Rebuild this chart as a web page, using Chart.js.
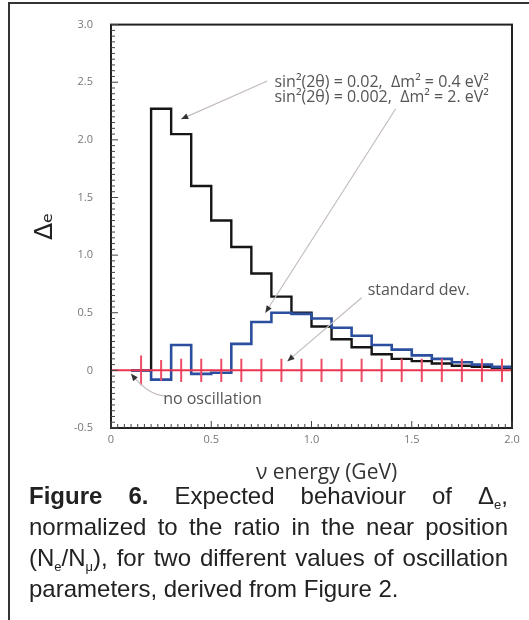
<!DOCTYPE html>
<html>
<head>
<meta charset="utf-8">
<script src="https://cdn.jsdelivr.net/npm/chart.js@4.4.1/dist/chart.umd.min.js"></script>
<style>
  html, body { margin: 0; padding: 0; background: #fff; }
  #wrap { position: relative; width: 529px; height: 620px; overflow: hidden; }
  #frameTop { position: absolute; left: 8px; top: 2px; width: 521px; height: 2px; background: #333; }
  #frameLeft { position: absolute; left: 8px; top: 2px; width: 2px; height: 618px; background: #333; }
  #chartBox { position: absolute; left: 0; top: 0; width: 529px; height: 490px; }
  #caption {
    position: absolute; left: 29px; top: 480px; width: 479px;
    font-family: "Liberation Sans", Arial, sans-serif; font-size: 24px; line-height: 31px;
    text-align: justify; color: #222;
  }
  #caption sub { font-size: 13px; line-height: 0; vertical-align: -5px; }
</style>
</head>
<body>
<div id="wrap">
  <div id="frameTop"></div>
  <div id="frameLeft"></div>
  <div id="chartBox"><canvas id="deltaChart" width="529" height="490"></canvas></div>
  <div id="caption"><b>Figure 6.</b> Expected behaviour of &Delta;<sub>e</sub>, normalized to the ratio in the near position (N<sub>e</sub>/N<sub>&mu;</sub>), for two different values of oscillation parameters, derived from Figure 2.</div>
</div>
<script>
// lower edges of the energy bins (GeV), last bin ends at 2.0
const binLow = [0.1, 0.2, 0.3, 0.4, 0.5, 0.6, 0.7, 0.8, 0.9, 1.0,
                1.1, 1.2, 1.3, 1.4, 1.5, 1.6, 1.7, 1.8, 1.9];
const binEnd = 2.0;

// sin2(2theta) = 0.02, dm2 = 0.4 eV2  (black)
const deltaLowMass = [0, 2.27, 2.05, 1.60, 1.30, 1.07, 0.84, 0.64, 0.50, 0.38,
                      0.27, 0.20, 0.14, 0.10, 0.08, 0.06, 0.04, 0.03, 0.02];
// sin2(2theta) = 0.002, dm2 = 2 eV2  (blue)
const deltaHighMass = [0, -0.08, 0.22, -0.03, -0.02, 0.23, 0.42, 0.50, 0.49, 0.45,
                       0.37, 0.30, 0.22, 0.18, 0.13, 0.10, 0.07, 0.05, 0.03];

// no oscillation: zero line with standard deviation bars at bin centres
const errCentre = [0.15, 0.25, 0.35, 0.45, 0.55, 0.65, 0.75, 0.85, 0.95, 1.05,
                   1.15, 1.25, 1.35, 1.45, 1.55, 1.65, 1.75, 1.85, 1.95];
const errHalf = [0.13, 0.09, 0.10, 0.10, 0.10, 0.10, 0.10, 0.10, 0.10, 0.10,
                 0.10, 0.10, 0.10, 0.10, 0.10, 0.10, 0.10, 0.10, 0.10];

const xTicks = [0, 0.5, 1.0, 1.5, 2.0];
const yTicks = [-0.5, 0, 0.5, 1.0, 1.5, 2.0, 2.5, 3.0];

function histPoints(vals) {
  const pts = binLow.map((x, i) => ({ x: x, y: vals[i] }));
  pts.push({ x: binEnd, y: vals[vals.length - 1] });
  return pts;
}

const errPoints = [];
errCentre.forEach((c, i) => {
  errPoints.push({ x: c, y: -errHalf[i] });
  errPoints.push({ x: c, y: errHalf[i] });
  errPoints.push({ x: c, y: null });
});

const fmt = v => (v === 0 ? '0' : v.toFixed(1));

// notes drawn over the plot, positions in data units
const notes = [
  { text: 'sin\u00b2(2\u03b8) = 0.02,  \u0394m\u00b2 = 0.4 eV\u00b2', x: 0.815, y: 2.50 },
  { text: 'sin\u00b2(2\u03b8) = 0.002,  \u0394m\u00b2 = 2. eV\u00b2', x: 0.815, y: 2.37 },
  { text: 'standard dev.', x: 1.28, y: 0.69 },
  { text: 'no oscillation', x: 0.26, y: -0.25 }
];
const arrows = [
  { from: [0.78, 2.51], to: [0.35, 2.18] },
  { from: [1.42, 2.27], to: [0.77, 0.50] },
  { from: [1.25, 0.63], to: [0.88, 0.08] },
  { from: [0.27, -0.22], via: [0.19, -0.22], to: [0.10, -0.03] }
];

const decorPlugin = {
  id: 'decor',
  afterDatasetsDraw(chart) {
    const ctx = chart.ctx;
    const xs = chart.scales.x, ys = chart.scales.y;
    const a = chart.chartArea;
    const px = v => xs.getPixelForValue(v), py = v => ys.getPixelForValue(v);
    ctx.save();

    // arrows
    arrows.forEach(ar => {
      const x0 = px(ar.from[0]), y0 = py(ar.from[1]);
      const x1 = px(ar.to[0]), y1 = py(ar.to[1]);
      ctx.strokeStyle = '#c4bcc0';
      ctx.lineWidth = 1.2;
      ctx.beginPath();
      ctx.moveTo(x0, y0);
      let dx, dy;
      if (ar.via) {
        const cx = px(ar.via[0]), cy = py(ar.via[1]);
        ctx.quadraticCurveTo(cx, cy, x1, y1);
        dx = x1 - cx; dy = y1 - cy;
      } else {
        ctx.lineTo(x1, y1);
        dx = x1 - x0; dy = y1 - y0;
      }
      ctx.stroke();
      const len = Math.hypot(dx, dy);
      const ux = dx / len, uy = dy / len;
      ctx.fillStyle = '#333';
      ctx.beginPath();
      ctx.moveTo(x1, y1);
      ctx.lineTo(x1 - ux * 7 - uy * 3, y1 - uy * 7 + ux * 3);
      ctx.lineTo(x1 - ux * 7 + uy * 3, y1 - uy * 7 - ux * 3);
      ctx.closePath();
      ctx.fill();
    });

    // notes
    ctx.fillStyle = '#555';
    ctx.font = '16px "Open Sans", Lato, sans-serif';
    ctx.textBaseline = 'middle';
    ctx.textAlign = 'left';
    notes.forEach(n => ctx.fillText(n.text, px(n.x), py(n.y)));

    // plot frame
    ctx.strokeStyle = '#222';
    ctx.lineWidth = 2;
    ctx.strokeRect(a.left, a.top, a.right - a.left, a.bottom - a.top);

    // inward ticks on left and bottom axes
    ctx.lineWidth = 1;
    ctx.strokeStyle = '#444';
    for (let k = 0; k <= 70; k++) {
      const y = py(-0.5 + k * 0.05);
      const major = k % 10 === 0;
      ctx.beginPath();
      ctx.moveTo(a.left, y);
      ctx.lineTo(a.left + (major ? 7 : 4), y);
      ctx.stroke();
    }
    for (let k = 0; k <= 60; k++) {
      const x = px(k / 30);
      const major = k % 15 === 0;
      ctx.beginPath();
      ctx.moveTo(x, a.bottom);
      ctx.lineTo(x, a.bottom - (major ? 7 : 4));
      ctx.stroke();
    }

    // x axis title
    ctx.fillStyle = '#333';
    ctx.font = '21px "Open Sans", Lato, sans-serif';
    ctx.textAlign = 'center';
    ctx.textBaseline = 'middle';
    ctx.fillText('\u03bd energy (GeV)', px(1.075), a.bottom + 45);
    ctx.restore();
  }
};

new Chart(document.getElementById('deltaChart'), {
  type: 'line',
  data: {
    datasets: [
      { label: 'zero', data: [{ x: 0, y: 0 }, { x: 2, y: 0 }], borderColor: '#e8344f', borderWidth: 2, pointRadius: 0 },
      { label: 'standard dev.', data: errPoints, borderColor: '#ee4d66', borderWidth: 2, pointRadius: 0, spanGaps: false },
      { label: 'dm2 = 2 eV2', data: histPoints(deltaHighMass), stepped: 'before', borderColor: '#2b4f9e', borderWidth: 2.6, pointRadius: 0 },
      { label: 'dm2 = 0.4 eV2', data: histPoints(deltaLowMass), stepped: 'before', borderColor: '#151515', borderWidth: 2.4, pointRadius: 0 }
    ]
  },
  options: {
    responsive: false,
    animation: false,
    events: [],
    layout: { padding: { left: 20, right: 17, top: 22, bottom: 0 } },
    plugins: { legend: { display: false }, tooltip: { enabled: false } },
    scales: {
      x: {
        type: 'linear', min: 0, max: 2,
        afterBuildTicks: s => { s.ticks = xTicks.map(v => ({ value: v })); },
        afterFit: s => { s.height = 62; },
        grid: { display: false, drawTicks: false },
        border: { display: false },
        ticks: { callback: fmt, padding: 5, color: '#777', maxRotation: 0,
                 font: { family: '"Open Sans", Lato, sans-serif', size: 11 } }
      },
      y: {
        type: 'linear', min: -0.5, max: 3,
        afterBuildTicks: s => { s.ticks = yTicks.map(v => ({ value: v })); },
        afterFit: s => { s.width = 91; },
        grid: { display: false, drawTicks: false },
        border: { display: false },
        title: { display: true, text: '\u0394\u2091', color: '#222', padding: { top: 10, bottom: 0 },
                 font: { family: '"DejaVu Sans", sans-serif', size: 25 } },
        ticks: { callback: fmt, padding: 18, color: '#777',
                 font: { family: '"Open Sans", Lato, sans-serif', size: 11 } }
      }
    }
  },
  plugins: [decorPlugin]
});
</script>
</body>
</html>
